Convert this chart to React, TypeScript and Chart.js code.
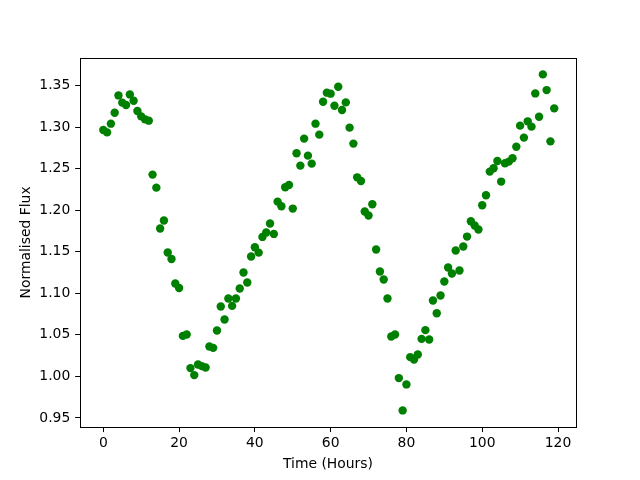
import { useEffect, useRef } from "react";
import { Chart, registerables } from "chart.js";

Chart.register(...registerables);

const hours = [
  0, 1, 2, 3, 4, 5, 6, 7, 8, 9, 10, 11, 12, 13, 14, 15, 16, 17, 18, 19,
  20, 21, 22, 23, 24, 25, 26, 27, 28, 29, 30, 31, 32, 33, 34, 35, 36, 37, 38, 39,
  40, 41, 42, 43, 44, 45, 46, 47, 48, 49, 50, 51, 52, 53, 54, 55, 56, 57, 58, 59,
  60, 61, 62, 63, 64, 65, 66, 67, 68, 69, 70, 71, 72, 73, 74, 75, 76, 77, 78, 79,
  80, 81, 82, 83, 84, 85, 86, 87, 88, 89, 90, 91, 92, 93, 94, 95, 96, 97, 98, 99,
  100, 101, 102, 103, 104, 105, 106, 107, 108, 109, 110, 111, 112, 113, 114, 115, 116, 117, 118, 119,
];

const flux = [
  1.2965, 1.2937, 1.3042, 1.3174, 1.3382, 1.3295, 1.3266, 1.3394, 1.3318, 1.3194,
  1.313, 1.3094, 1.3078, 1.2429, 1.2272, 1.178, 1.1876, 1.1491, 1.1414, 1.1118,
  1.1065, 1.0488, 1.0505, 1.01, 1.0016, 1.0144, 1.0124, 1.0108, 1.036, 1.0344,
  1.0553, 1.0842, 1.0685, 1.0938, 1.0849, 1.0938, 1.1058, 1.1251, 1.113, 1.1443,
  1.1555, 1.149, 1.1679, 1.1732, 1.184, 1.1715, 1.2104, 1.2048, 1.2276, 1.2304,
  1.202, 1.2685, 1.2537, 1.2862, 1.2657, 1.2561, 1.3042, 1.291, 1.3306, 1.3415,
  1.3403, 1.3258, 1.3487, 1.3206, 1.3298, 1.2994, 1.2802, 1.2396, 1.2352, 1.1984,
  1.1936, 1.2072, 1.1527, 1.1262, 1.1166, 1.0938, 1.0481, 1.0505, 0.998, 0.9591,
  0.9904, 1.0232, 1.0204, 1.0264, 1.0452, 1.0557, 1.0445, 1.0914, 1.0761, 1.0974,
  1.1142, 1.1311, 1.1238, 1.1515, 1.1275, 1.1563, 1.1683, 1.1867, 1.1816, 1.1768,
  1.206, 1.218, 1.2465, 1.2505, 1.2592, 1.2345, 1.2565, 1.2585, 1.2625, 1.2765,
  1.3018, 1.2874, 1.307, 1.3006, 1.3406, 1.3126, 1.3635, 1.3446, 1.2829, 1.3226,
];

const xTicks = [0, 20, 40, 60, 80, 100, 120];
const yTicks = [0.95, 1.0, 1.05, 1.1, 1.15, 1.2, 1.25, 1.3, 1.35];

const FONT = { family: "'DejaVu Sans', sans-serif", size: 13.9 };

export default function App() {
  const ref = useRef<HTMLCanvasElement>(null);

  useEffect(() => {
    if (!ref.current) return;
    const frame = {
      id: "frame",
      afterDatasetsDraw(chart: any) {
        const { ctx, chartArea } = chart;
        const l = Math.round(chartArea.left) + 0.5;
        const t = Math.round(chartArea.top) + 0.5;
        const r = Math.round(chartArea.right) + 0.5;
        const b = Math.floor(chartArea.bottom) + 0.5;
        ctx.save();
        ctx.strokeStyle = "#000";
        ctx.lineWidth = 1;
        ctx.strokeRect(l, t, r - l, b - t);
        ctx.restore();
      },
    };

    const chart = new Chart(ref.current, {
      type: "scatter",
      data: {
        datasets: [
          {
            data: hours.map((h, i) => ({ x: h, y: flux[i] })),
            backgroundColor: "#008000",
            borderColor: "#008000",
            borderWidth: 0,
            pointRadius: 4.2,
            pointHoverRadius: 4.2,
          },
        ],
      },
      options: {
        animation: false,
        responsive: false,
        events: [],
        layout: { padding: { left: 0, right: 64, top: 57.6, bottom: 0 } },
        plugins: { legend: { display: false }, tooltip: { enabled: false } },
        scales: {
          x: {
            type: "linear",
            min: -6.15,
            max: 124.75,
            afterBuildTicks: (s: any) => {
              s.ticks = xTicks.map((v) => ({ value: v }));
            },
            afterFit: (s: any) => {
              s.height = 52.8;
            },
            grid: { drawOnChartArea: false, drawTicks: true, tickLength: 4.86, color: "#000" },
            border: { display: false },
            ticks: {
              color: "#000",
              font: FONT,
              padding: 3,
              maxRotation: 0,
              autoSkip: false,
              callback: (v: any) => String(v),
            },
            title: {
              display: true,
              text: "Time (Hours)",
              color: "#000",
              font: FONT,
              padding: { top: 0, bottom: 7.5 },
            },
          },
          y: {
            type: "linear",
            min: 0.9389,
            max: 1.3837,
            afterBuildTicks: (s: any) => {
              s.ticks = yTicks.map((v) => ({ value: v }));
            },
            afterFit: (s: any) => {
              s.width = 80;
            },
            grid: { drawOnChartArea: false, drawTicks: true, tickLength: 4.86, color: "#000" },
            border: { display: false },
            ticks: {
              color: "#000",
              font: FONT,
              padding: 4.86,
              autoSkip: false,
              callback: (v: any) => Number(v).toFixed(2),
            },
            title: {
              display: true,
              text: "Normalised Flux",
              color: "#000",
              font: FONT,
              padding: { top: 18, bottom: 0 },
            },
          },
        },
      },
      plugins: [frame],
    });
    return () => chart.destroy();
  }, []);

  return (
    <div style={{ position: "fixed", left: 0, top: 0, width: 640, height: 480, background: "#fff" }}>
      <canvas ref={ref} width={640} height={480} style={{ display: "block", width: 640, height: 480 }} />
    </div>
  );
}
